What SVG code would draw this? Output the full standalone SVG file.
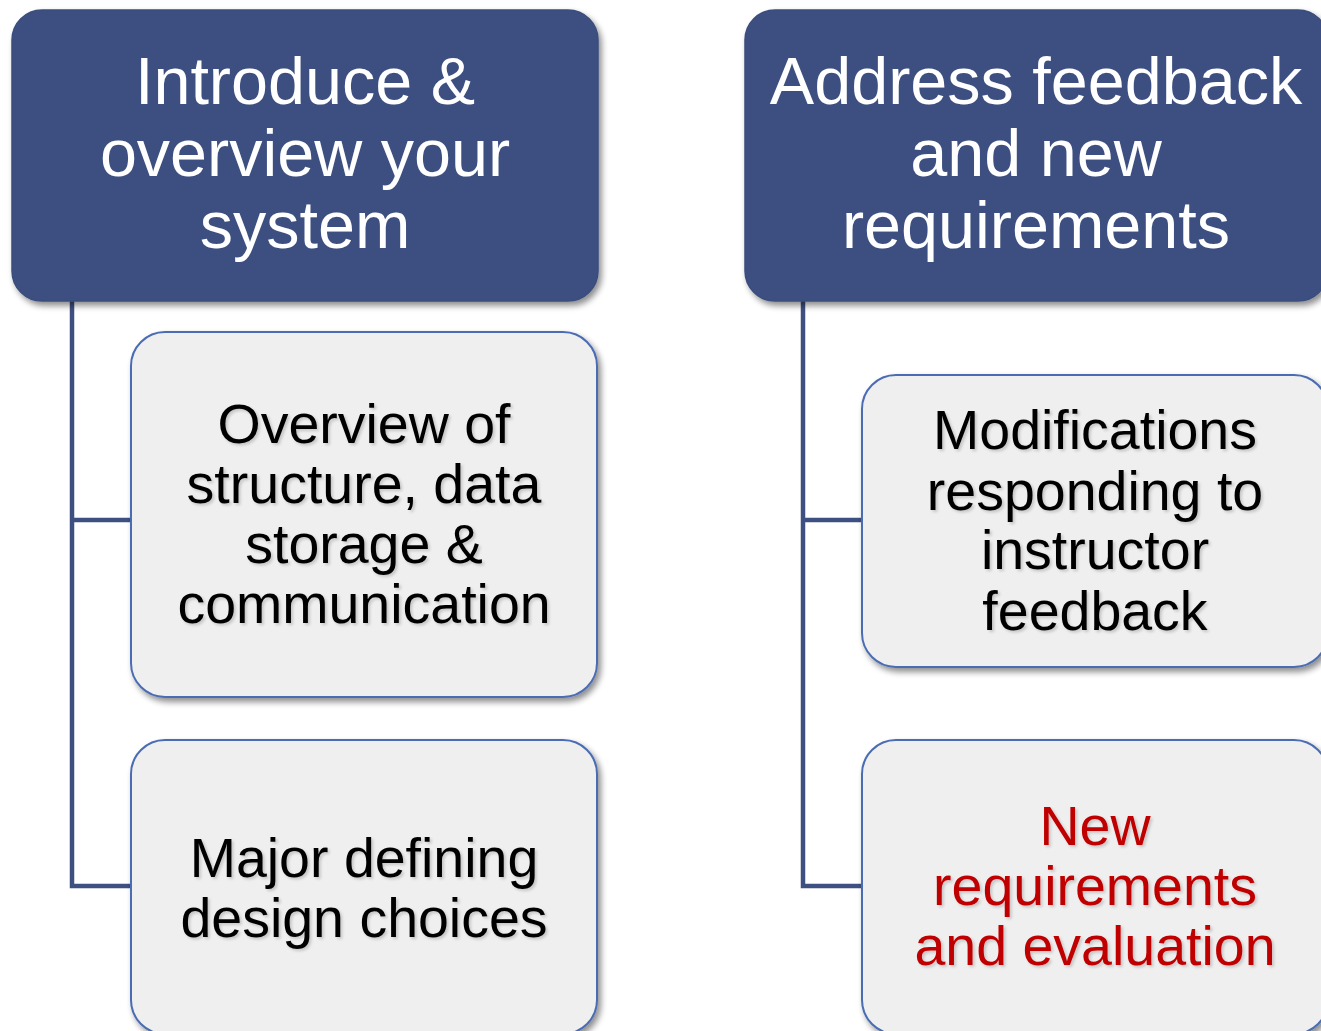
<svg xmlns="http://www.w3.org/2000/svg" width="1321" height="1031" viewBox="0 0 1321 1031">
  <defs>
    <filter id="shadow" x="-10%" y="-10%" width="125%" height="125%">
      <feGaussianBlur in="SourceAlpha" stdDeviation="3"/>
      <feOffset dx="3" dy="4" result="b"/>
      <feComponentTransfer><feFuncA type="linear" slope="0.45"/></feComponentTransfer>
      <feMerge><feMergeNode/><feMergeNode in="SourceGraphic"/></feMerge>
    </filter>
    <filter id="tshadow" x="-10%" y="-10%" width="120%" height="130%">
      <feGaussianBlur in="SourceAlpha" stdDeviation="1.5"/>
      <feOffset dx="2" dy="2" result="b"/>
      <feComponentTransfer><feFuncA type="linear" slope="0.18"/></feComponentTransfer>
      <feMerge><feMergeNode/><feMergeNode in="SourceGraphic"/></feMerge>
    </filter>
  </defs>
  <style>
    .head { fill: #3d5081; stroke: #3a4d7c; stroke-width: 1.5; }
    .child { fill: #efefef; stroke: #4a6cb3; stroke-width: 2; }
    .conn { fill: none; stroke: #3d5081; stroke-width: 4.5; stroke-linejoin: miter; }
    .ht { font-family: "Liberation Sans", Arial, sans-serif; font-size: 66.5px; fill: #ffffff; text-anchor: middle; }
    .ct { font-family: "Liberation Sans", Arial, sans-serif; font-size: 55.5px; fill: #000000; text-anchor: middle; }
    .red { fill: #c00000; }
  </style>
  <rect width="1321" height="1031" fill="#ffffff"/>

  <g id="connectors">
    <path class="conn" d="M72 300 V886 H132 M72 520 H132"/>
    <path class="conn" d="M803 300 V886 H863 M803 520 H863"/>
  </g>

  <g id="node-introduce" filter="url(#shadow)">
    <rect class="head" x="12" y="10" width="586" height="291" rx="30" ry="30"/>
    <text class="ht"><tspan x="305" y="104">Introduce &amp;</tspan><tspan x="305" y="176">overview your</tspan><tspan x="305" y="248">system</tspan></text>
  </g>

  <g id="node-address" filter="url(#shadow)">
    <rect class="head" x="745" y="10" width="583" height="291" rx="30" ry="30"/>
    <text class="ht"><tspan x="1036" y="104">Address feedback</tspan><tspan x="1036" y="176">and new</tspan><tspan x="1036" y="248">requirements</tspan></text>
  </g>

  <g id="node-overview">
    <rect class="child" x="131" y="332" width="466" height="365" rx="34" ry="34" filter="url(#shadow)"/>
    <text class="ct" filter="url(#tshadow)"><tspan x="364" y="443">Overview of</tspan><tspan x="364" y="503">structure, data</tspan><tspan x="364" y="563">storage &amp;</tspan><tspan x="364" y="623">communication</tspan></text>
  </g>

  <g id="node-major">
    <rect class="child" x="131" y="740" width="466" height="294" rx="34" ry="34" filter="url(#shadow)"/>
    <text class="ct" filter="url(#tshadow)"><tspan x="364" y="877">Major defining</tspan><tspan x="364" y="937">design choices</tspan></text>
  </g>

  <g id="node-modifications">
    <rect class="child" x="862" y="375" width="466" height="292" rx="34" ry="34" filter="url(#shadow)"/>
    <text class="ct" filter="url(#tshadow)"><tspan x="1095" y="449">Modifications</tspan><tspan x="1095" y="510">responding to</tspan><tspan x="1095" y="569">instructor</tspan><tspan x="1095" y="630">feedback</tspan></text>
  </g>

  <g id="node-new">
    <rect class="child" x="862" y="740" width="466" height="294" rx="34" ry="34" filter="url(#shadow)"/>
    <text class="ct red" filter="url(#tshadow)"><tspan x="1095" y="845">New</tspan><tspan x="1095" y="905">requirements</tspan><tspan x="1095" y="965">and evaluation</tspan></text>
  </g>
</svg>
